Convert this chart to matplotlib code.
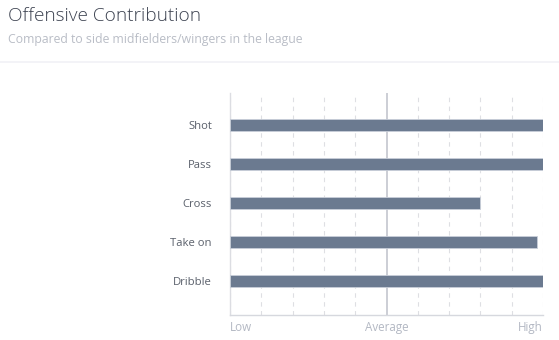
import matplotlib.pyplot as plt
from matplotlib.lines import Line2D

# Datos
categories = ['Shot', 'Pass', 'Cross', 'Take on', 'Dribble']
values = [100, 100, 80, 98, 100]
tick_pos = [0, 50, 100]
tick_labels = ['Low', 'Average', 'High']

plt.rcParams['font.family'] = ['Open Sans', 'DejaVu Sans']

W, H = 559, 340
fig = plt.figure(figsize=(W / 100, H / 100), dpi=100)
ax = fig.add_axes([230 / W, (H - 315) / H, (543 - 230) / W, (315 - 93) / H])

y = range(len(categories))
ax.barh(y, values, height=0.32, color='#6b7a90', edgecolor='#c9cfd9', linewidth=0.6, zorder=3)

# Rejilla punteada
for x in range(0, 101, 10):
    if x == 50:
        continue
    ax.axvline(x, color='#dedfe3', linestyle=(0, (4, 4)), linewidth=0.8, zorder=1)
ax.axvline(50, color='#c3c6ce', linewidth=1.2, zorder=2)

ax.set_xlim(0, 100)
ax.set_ylim(4.87, -0.82)

ax.set_yticks(list(y))
ax.set_yticklabels(categories, fontsize=8.1, color='#5a606b')
ax.tick_params(axis='y', length=0, pad=13)

ax.set_xticks([])
for pos, lab, ha in zip(tick_pos, tick_labels, ['left', 'center', 'right']):
    ax.text(pos, 5.2, lab, ha=ha, va='center', fontsize=8.4, color='#b3b8c3')

for s in ['top', 'right']:
    ax.spines[s].set_visible(False)
ax.spines['left'].set_color('#dcdde2')
ax.spines['bottom'].set_color('#d6d8de')
ax.spines['left'].set_linewidth(1.0)
ax.spines['bottom'].set_linewidth(1.0)

# Título y subtítulo
fig.text(8 / W, 1 - 16 / H, 'Offensive Contribution', fontsize=13.7, fontweight='light',
         color='#3c4250', va='center', ha='left')
fig.text(8 / W, 1 - 40 / H, 'Compared to side midfielders/wingers in the league', fontsize=8.8,
         color='#b9bdc6', va='center', ha='left')

# Separador
fig.add_artist(Line2D([0, 1], [1 - 61.5 / H, 1 - 61.5 / H], color='#f1f1f6', linewidth=1.2, transform=fig.transFigure))

fig.savefig('out.png', dpi=100)
